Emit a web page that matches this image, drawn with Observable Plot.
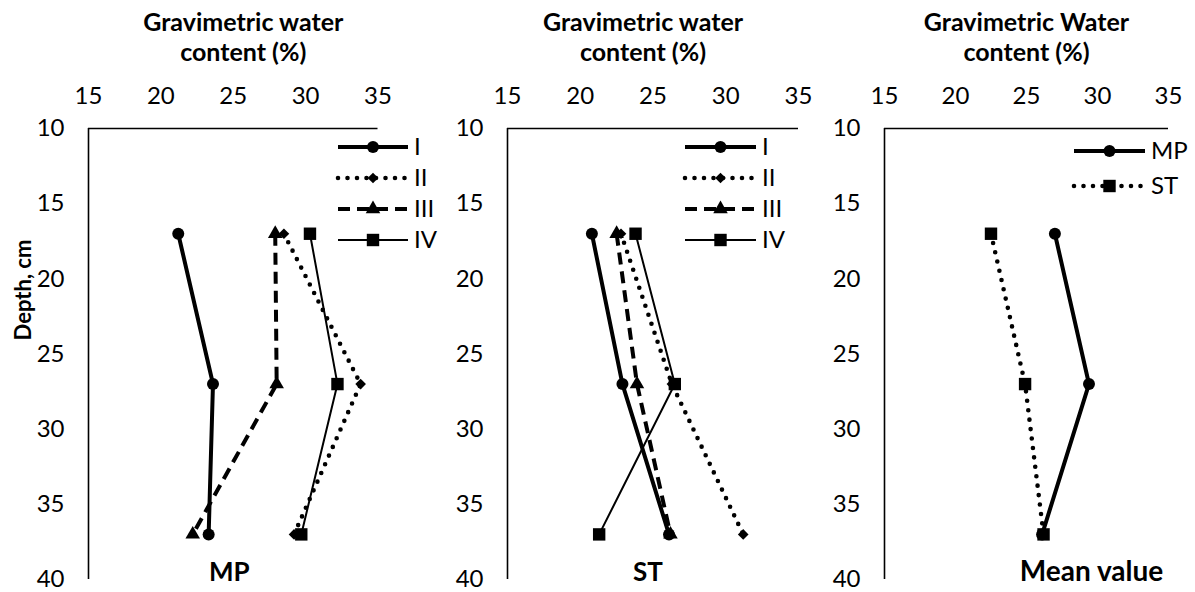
<!DOCTYPE html>
<html>
<head>
<meta charset="utf-8">
<script src="https://cdn.jsdelivr.net/npm/d3@7"></script>
<script src="https://cdn.jsdelivr.net/npm/@observablehq/plot@0.6"></script>
<style>
  html, body { margin: 0; padding: 0; background: #fff; }
  #chart { position: relative; width: 1195px; height: 592px; overflow: hidden; font-family: Lato, sans-serif; }
  #chart > svg { position: absolute; top: 0; }
</style>
</head>
<body>
<div id="chart"></div>
<script>
// Sampling depths (cm)
const depths = [17, 27, 37];

// Gravimetric water content (%) per replicate, MP plot
const mpI   = [21.2, 23.6, 23.3];
const mpII  = [28.5, 33.8, 29.2];
const mpIII = [27.9, 28.0, 22.2];
const mpIV  = [30.3, 32.2, 29.7];

// Gravimetric water content (%) per replicate, ST plot
const stI   = [20.8, 22.9, 26.1];
const stII  = [22.8, 26.3, 31.2];
const stIII = [22.5, 23.9, 26.2];
const stIV  = [23.8, 26.5, 21.3];

// Mean values
const meanMP = [27.0, 29.4, 26.1];
const meanST = [22.5, 24.9, 26.2];

const xTicks = [15, 20, 25, 30, 35];
const yTicks = [10, 15, 20, 25, 30, 35, 40];
const replicateNames = ["I", "II", "III", "IV"];
const meanNames = ["MP", "ST"];

// Line / marker styling per series key
const styles = {
  I:   {strokeWidth: 4,   dash: null,     cap: "butt",  symbol: "circle",   r: 6},
  II:  {strokeWidth: 4.6, dash: "0,9.5",  cap: "round", symbol: "diamond2", r: 4.8},
  III: {strokeWidth: 4,   dash: "12,7",   cap: "butt",  symbol: "triangle", r: 5.4},
  IV:  {strokeWidth: 2,   dash: null,     cap: "butt",  symbol: "square",   r: 7},
  MP:  {strokeWidth: 4,   dash: null,     cap: "butt",  symbol: "circle",   r: 6},
  ST:  {strokeWidth: 4.6, dash: "0,9.5",  cap: "round", symbol: "square",   r: 7}
};

function table(names, columns) {
  return names.map((name, i) => depths.map((d, j) => ({series: name, depth: d, value: columns[i][j]})));
}

const fontFamily = "Lato, sans-serif";
const tickFont = 24;
const chart = document.getElementById("chart");

function panel(cfg) {
  const groups = table(cfg.names, cfg.columns);
  const marks = [
    Plot.ruleY([10], {stroke: "#000", strokeWidth: 1.6}),
    Plot.ruleX([15], {stroke: "#000", strokeWidth: 1.6}),
    Plot.axisX(xTicks, {anchor: "top", tickSize: 0, tickPadding: 25, fontSize: tickFont, label: null}),
    Plot.axisY(yTicks, {anchor: "left", tickSize: 0, tickPadding: 24, fontSize: tickFont, label: null})
  ];
  groups.forEach(rows => {
    const s = styles[rows[0].series];
    marks.push(Plot.line(rows, {
      x: "value", y: "depth", stroke: "#000", strokeWidth: s.strokeWidth,
      strokeDasharray: s.dash ?? undefined, strokeLinecap: s.cap, strokeLinejoin: "round"
    }));
  });
  groups.forEach(rows => {
    const s = styles[rows[0].series];
    marks.push(Plot.dot(rows, {x: "value", y: "depth", symbol: () => s.symbol, r: s.r, fill: "#000", stroke: "none"}));
  });
  marks.push(Plot.text([cfg.title], {
    frameAnchor: "top", dx: cfg.titleDx, dy: -92, lineAnchor: "middle", lineHeight: 1.2,
    fontWeight: "bold", fontSize: 25, fill: "#000"
  }));
  marks.push(Plot.text([cfg.caption], {
    frameAnchor: "bottom", dx: cfg.captionDx, dy: -7, lineAnchor: "middle", textAnchor: "middle",
    fontWeight: "bold", fontSize: cfg.captionSize, fill: "#000"
  }));
  if (cfg.yLabel) {
    marks.push(Plot.text([cfg.yLabel], {
      frameAnchor: "left", dx: -65, dy: -64, rotate: -90, lineAnchor: "middle", textAnchor: "middle",
      fontWeight: "bold", fontSize: 22, fill: "#000"
    }));
  }
  const svg = Plot.plot({
    width: cfg.svgWidth, height: 592,
    marginLeft: cfg.left - cfg.svgLeft,
    marginRight: cfg.svgLeft + cfg.svgWidth - cfg.right,
    marginTop: 128, marginBottom: 13,
    style: {fontFamily, fontSize: tickFont + "px", color: "#000", background: "transparent", overflow: "visible"},
    x: {domain: [15, 35]},
    y: {domain: [10, 40], reverse: true},
    marks
  });
  svg.style.left = cfg.svgLeft + "px";
  chart.appendChild(svg);
}

panel({svgLeft: 0, svgWidth: 420, left: 88, right: 377.5, names: replicateNames,
  columns: [mpI, mpII, mpIII, mpIV], title: "Gravimetric water\ncontent (%)", titleDx: 10,
  caption: "MP", captionDx: -4, captionSize: 26, yLabel: "Depth, cm"});
panel({svgLeft: 420, svgWidth: 400, left: 507, right: 798, names: replicateNames,
  columns: [stI, stII, stIII, stIV], title: "Gravimetric water\ncontent (%)", titleDx: -10,
  caption: "ST", captionDx: -5, captionSize: 26});
panel({svgLeft: 820, svgWidth: 375, left: 884, right: 1168, names: meanNames,
  columns: [meanMP, meanST], title: "Gravimetric Water\ncontent (%)", titleDx: 0,
  caption: "Mean value", captionDx: 65, captionSize: 28});

// Legends drawn in an overlay on top of the panels
const symbolTypes = {circle: d3.symbolCircle, diamond2: d3.symbolDiamond2, triangle: d3.symbolTriangle, square: d3.symbolSquare};
const overlay = d3.create("svg").attr("width", 1195).attr("height", 592).style("left", "0px").style("pointer-events", "none");
const legends = [
  {names: replicateNames, x0: 338, x1: 408, rows: [147, 178, 209, 240]},
  {names: replicateNames, x0: 685, x1: 756, rows: [147, 178, 209, 240]},
  {names: meanNames,      x0: 1074, x1: 1145, rows: [151, 186]}
];
legends.forEach(lg => {
  lg.names.forEach((name, i) => {
    const s = styles[name];
    const y = lg.rows[i];
    const g = overlay.append("g");
    g.append("line").attr("x1", lg.x0).attr("x2", lg.x1).attr("y1", y).attr("y2", y)
      .attr("stroke", "#000").attr("stroke-width", s.strokeWidth)
      .attr("stroke-dasharray", s.dash).attr("stroke-linecap", s.cap);
    g.append("path").attr("transform", `translate(${(lg.x0 + lg.x1) / 2},${y})`)
      .attr("d", d3.symbol(symbolTypes[s.symbol], Math.PI * s.r * s.r)()).attr("fill", "#000");
    g.append("text").attr("x", lg.x1 + 6).attr("y", y).attr("dy", "0.35em")
      .attr("font-family", fontFamily).attr("font-size", tickFont).attr("fill", "#000").text(name);
  });
});
chart.appendChild(overlay.node());
</script>
</body>
</html>
